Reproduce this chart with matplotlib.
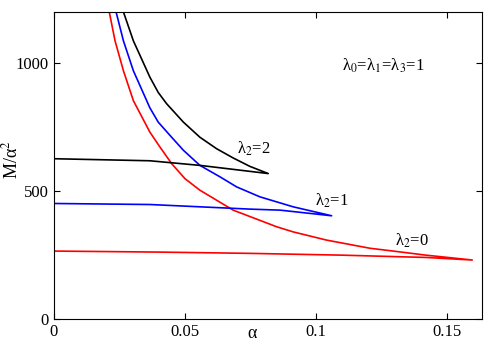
import matplotlib.pyplot as plt

plt.rcParams['font.family'] = ['Liberation Serif', 'DejaVu Serif']
plt.rcParams['mathtext.fontset'] = 'stix'

# lambda2 = 0 (red): lower branch from alpha=0 to the tip, then upper branch back up
red_alpha = [0.0, 0.04, 0.0748, 0.11, 0.142, 0.1597,
             0.142, 0.1295, 0.1206, 0.104, 0.0913, 0.085, 0.0684, 0.0557,
             0.05, 0.0449, 0.0405, 0.0366, 0.0303, 0.0265, 0.0233, 0.0211]
red_m = [265, 261, 256, 249, 240, 230,
         249, 265, 276, 308, 340, 360, 425, 503,
         548, 607, 671, 730, 853, 970, 1087, 1200]

# lambda2 = 1 (blue)
blue_alpha = [0.0, 0.0366, 0.0748, 0.0863, 0.106,
              0.0913, 0.0786, 0.0697, 0.0634, 0.0557, 0.0494, 0.0443, 0.0398,
              0.0366, 0.0303, 0.0265, 0.0237]
blue_m = [451, 447, 429, 425, 403,
          438, 477, 516, 555, 600, 659, 717, 769,
          825, 970, 1087, 1200]

# lambda2 = 2 (black)
black_alpha = [0.0, 0.0366, 0.0557, 0.0818,
               0.0748, 0.0684, 0.0621, 0.0557, 0.0494, 0.043, 0.0398,
               0.0366, 0.0303, 0.0265]
black_m = [626, 618, 600, 568,
           596, 629, 665, 710, 769, 841, 885,
           945, 1087, 1200]

fig = plt.figure(figsize=(5, 3.5), dpi=100)
ax = fig.add_axes([0.108, 0.089, 0.856, 0.877])

ax.plot(red_alpha, red_m, color='red', lw=1.2)
ax.plot(blue_alpha, blue_m, color='blue', lw=1.2)
ax.plot(black_alpha, black_m, color='black', lw=1.2)

ax.text(0.0698, 666, 'λ$_2$=2', fontsize=12, va='center')
ax.text(0.0996, 460, 'λ$_2$=1', fontsize=12, va='center')
ax.text(0.130, 304, 'λ$_2$=0', fontsize=12, va='center')
ax.text(0.1098, 990, 'λ$_0$=λ$_1$=λ$_3$=1', fontsize=12, va='center')

ax.set_xlim(0, 0.1634)
ax.set_ylim(0, 1200)
ax.set_xticks([0, 0.05, 0.1, 0.15])
ax.set_xticklabels(['0', '0.05', '0.1', '0.15'])
ax.set_yticks([0, 500, 1000])
ax.tick_params(direction='in', length=4, top=True, right=True, labelsize=12, pad=4)
for s in ax.spines.values():
    s.set_linewidth(0.8)

fig.text(252 / 500, 1 - 333 / 350, 'α', fontsize=13, ha='center', va='center')
fig.text(11 / 500, 1 - 160 / 350, 'M/α$^2$', fontsize=13, ha='center', va='center',
         rotation=90)

fig.savefig('out.png', dpi=100)
